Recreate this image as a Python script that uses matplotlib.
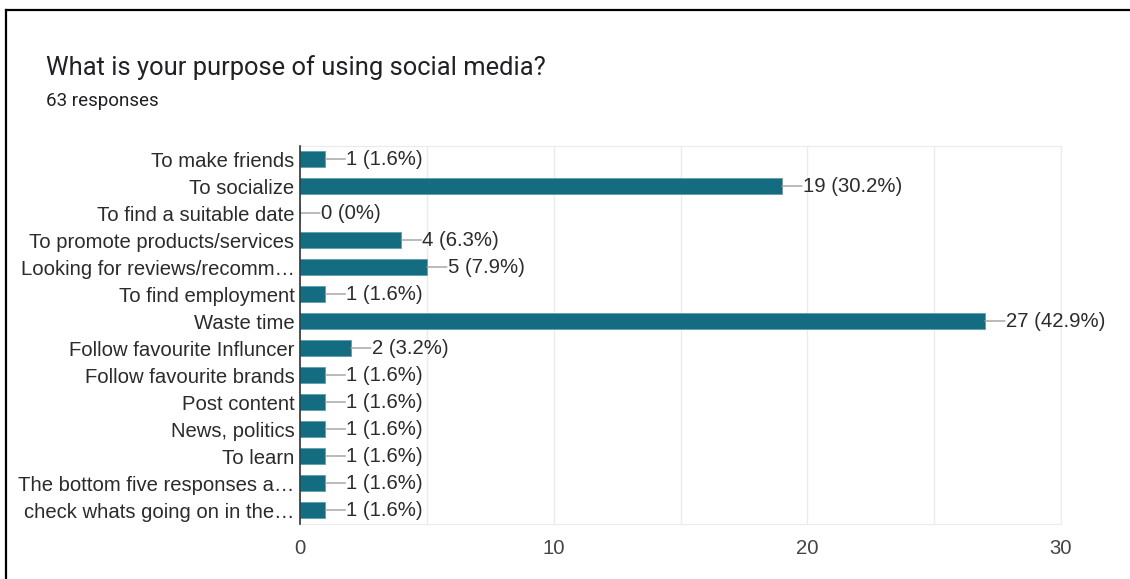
import matplotlib.pyplot as plt
from matplotlib.lines import Line2D

# Responses to "What is your purpose of using social media?"
categories = [
    'To make friends',
    'To socialize',
    'To find a suitable date',
    'To promote products/services',
    'Looking for reviews/recomm\u2026',
    'To find employment',
    'Waste time',
    'Follow favourite Influncer',
    'Follow favourite brands',
    'Post content',
    'News, politics',
    'To learn',
    'The bottom five responses a\u2026',
    'check whats going on in the\u2026',
]
counts = [1, 19, 0, 4, 5, 1, 27, 2, 1, 1, 1, 1, 1, 1]
percents = ['1.6', '30.2', '0', '6.3', '7.9', '1.6', '42.9', '3.2', '1.6', '1.6', '1.6', '1.6', '1.6', '1.6']
x_ticks = [0, 10, 20, 30]
total = 63

bar_color = '#136c80'
text_color = '#2b2b2b'
fs = 14.6

fig = plt.figure(figsize=(11.3, 5.79), dpi=100)
fig.patch.set_facecolor('white')

# screenshot border on top and left
fig.add_artist(Line2D([6 / 1130, 6 / 1130], [0, 1 - 10 / 579], transform=fig.transFigure,
                      color='black', lw=1.6))
fig.add_artist(Line2D([6 / 1130, 1], [1 - 10 / 579, 1 - 10 / 579], transform=fig.transFigure,
                      color='black', lw=1.6))

fig.text(46 / 1130, 1 - 68 / 579, 'What is your purpose of using social media?',
         fontsize=18.4, family='Roboto', color='#202124', va='center', ha='left')
fig.text(46 / 1130, 1 - 101 / 579, f'{total} responses',
         fontsize=13.5, family='Roboto', color='#202124', va='center', ha='left')

ax = fig.add_axes([300 / 1130, 1 - 523.5 / 579, 761 / 1130, 378 / 579])
y = list(range(len(categories)))
ax.barh(y, counts, height=0.6, color=bar_color, edgecolor='#5e9fb0', linewidth=0.6, zorder=3)

for i, (v, p) in enumerate(zip(counts, percents)):
    ax.annotate('', xy=(v, i), xytext=(20, 0), textcoords='offset pixels',
                arrowprops=dict(arrowstyle='-', color='#9e9e9e', lw=1, shrinkA=0, shrinkB=0))
    ax.annotate(f'{v} ({p}%)', xy=(v, i), xytext=(21, 0), textcoords='offset pixels',
                ha='left', va='center', fontsize=fs, family='Liberation Sans', color=text_color)

ax.set_xlim(0, 30)
ax.set_ylim(len(categories) - 0.5, -0.5)
ax.set_yticks(y)
ax.set_yticklabels(categories, fontsize=fs, family='Liberation Sans', color=text_color)
ax.set_xticks(x_ticks)
ax.set_xticklabels([str(t) for t in x_ticks], fontsize=fs, family='Liberation Sans', color='#444444')
ax.set_xticks(range(0, 31, 5), minor=True)
ax.tick_params(axis='both', which='both', length=0)
ax.tick_params(axis='y', pad=4)
ax.tick_params(axis='x', pad=11)
ax.grid(axis='x', which='both', color='#ebebeb', lw=1, zorder=0)
for side in ['top', 'right', 'bottom']:
    ax.spines[side].set_color('#ebebeb')
ax.spines['left'].set_color('#333333')
ax.spines['left'].set_linewidth(1.2)
ax.spines['left'].set_zorder(4)

fig.savefig('out.png', dpi=100)
